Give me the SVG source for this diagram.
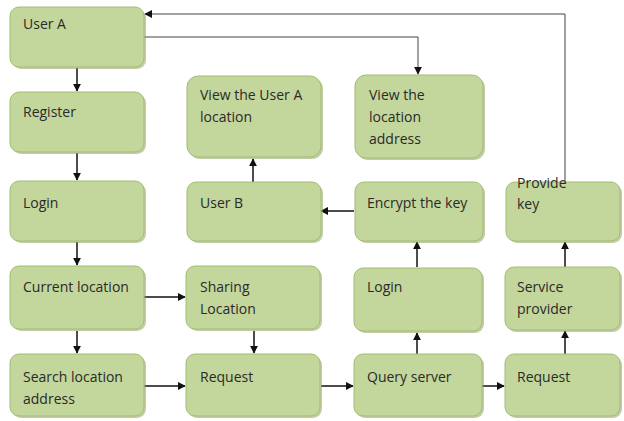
<svg xmlns="http://www.w3.org/2000/svg" width="624" height="421" viewBox="0 0 624 421">
  <style>
    .box { fill: #c3d69b; stroke: #a4bd74; stroke-width: 1; }
    .shadow { fill: #8fa35f; opacity: 0.55; }
    .lbl { font-family: "Open Sans", "Liberation Sans", sans-serif; font-size: 14px; fill: #2a2a2a; }
    .arr { fill: none; stroke: #111; stroke-width: 1.5; marker-end: url(#ah); }
    .thin { fill: none; stroke: #444; stroke-width: 1; marker-end: url(#ah); }
  </style>
  <defs>
    <marker id="ah" viewBox="0 0 10 10" refX="9" refY="5" markerWidth="8" markerHeight="8" markerUnits="userSpaceOnUse" orient="auto">
      <path d="M0,0 L10,5 L0,10 z" fill="#111"/>
    </marker>
  </defs>
  <rect width="624" height="421" fill="#fff"/>

  <g id="connectors">
    <line class="arr" x1="77" y1="68" x2="77" y2="91"/>
    <line class="arr" x1="77" y1="153" x2="77" y2="180"/>
    <line class="arr" x1="77" y1="242" x2="77" y2="265"/>
    <line class="arr" x1="77" y1="331" x2="77" y2="353"/>
    <line class="arr" x1="144" y1="297" x2="185" y2="297"/>
    <line class="arr" x1="144" y1="386" x2="185" y2="386"/>
    <line class="arr" x1="254" y1="331" x2="254" y2="353"/>
    <line class="arr" x1="321" y1="386" x2="353" y2="386"/>
    <line class="arr" x1="417" y1="354" x2="417" y2="333"/>
    <line class="arr" x1="417" y1="267" x2="417" y2="242"/>
    <line class="arr" x1="354" y1="211" x2="321" y2="211"/>
    <line class="arr" x1="253" y1="182" x2="253" y2="159"/>
    <line class="arr" x1="482" y1="386" x2="504" y2="386"/>
    <line class="arr" x1="565" y1="354" x2="565" y2="331"/>
    <line class="arr" x1="565" y1="267" x2="565" y2="242"/>
    <path class="thin" d="M565,182 V14 H145"/>
    <path class="thin" d="M144,37 H418 V74"/>
  </g>

  <g id="user-a">
    <rect class="shadow" x="12" y="9" width="134" height="60" rx="9"/>
    <rect class="box" x="10" y="7" width="134" height="60" rx="9"/>
    <text class="lbl" x="23" y="29">User A</text>
  </g>
  <g id="register">
    <rect class="shadow" x="12" y="94" width="134" height="60" rx="9"/>
    <rect class="box" x="10" y="92" width="134" height="60" rx="9"/>
    <text class="lbl" x="23" y="117">Register</text>
  </g>
  <g id="login-a">
    <rect class="shadow" x="12" y="183" width="134" height="60" rx="9"/>
    <rect class="box" x="10" y="181" width="134" height="60" rx="9"/>
    <text class="lbl" x="23" y="208">Login</text>
  </g>
  <g id="current-location">
    <rect class="shadow" x="12" y="268" width="134" height="63" rx="9"/>
    <rect class="box" x="10" y="266" width="134" height="63" rx="9"/>
    <text class="lbl" x="23" y="292">Current location</text>
  </g>
  <g id="search-location">
    <rect class="shadow" x="12" y="356" width="134" height="62" rx="9"/>
    <rect class="box" x="10" y="354" width="134" height="62" rx="9"/>
    <text class="lbl" x="23" y="382">Search location</text>
    <text class="lbl" x="23" y="404">address</text>
  </g>

  <g id="view-user-a">
    <rect class="shadow" x="189" y="78" width="134" height="81" rx="11"/>
    <rect class="box" x="187" y="76" width="134" height="81" rx="11"/>
    <text class="lbl" x="200" y="100">View the User A</text>
    <text class="lbl" x="200" y="122">location</text>
  </g>
  <g id="user-b">
    <rect class="shadow" x="189" y="184" width="134" height="59" rx="9"/>
    <rect class="box" x="187" y="182" width="134" height="59" rx="9"/>
    <text class="lbl" x="200" y="208">User B</text>
  </g>
  <g id="sharing-location">
    <rect class="shadow" x="188" y="268" width="134" height="63" rx="9"/>
    <rect class="box" x="186" y="266" width="134" height="63" rx="9"/>
    <text class="lbl" x="200" y="292">Sharing</text>
    <text class="lbl" x="200" y="314">Location</text>
  </g>
  <g id="request-1">
    <rect class="shadow" x="188" y="356" width="134" height="62" rx="9"/>
    <rect class="box" x="186" y="354" width="134" height="62" rx="9"/>
    <text class="lbl" x="200" y="382">Request</text>
  </g>

  <g id="view-location-address">
    <rect class="shadow" x="357" y="77" width="128" height="83" rx="11"/>
    <rect class="box" x="355" y="75" width="128" height="83" rx="11"/>
    <text class="lbl" x="369" y="100">View the</text>
    <text class="lbl" x="369" y="122">location</text>
    <text class="lbl" x="369" y="144">address</text>
  </g>
  <g id="encrypt-key">
    <rect class="shadow" x="357" y="184" width="128" height="59" rx="9"/>
    <rect class="box" x="355" y="182" width="128" height="59" rx="9"/>
    <text class="lbl" x="367" y="208">Encrypt the key</text>
  </g>
  <g id="login-b">
    <rect class="shadow" x="356" y="270" width="128" height="63" rx="9"/>
    <rect class="box" x="354" y="268" width="128" height="63" rx="9"/>
    <text class="lbl" x="367" y="292">Login</text>
  </g>
  <g id="query-server">
    <rect class="shadow" x="356" y="356" width="128" height="62" rx="9"/>
    <rect class="box" x="354" y="354" width="128" height="62" rx="9"/>
    <text class="lbl" x="367" y="382">Query server</text>
  </g>

  <g id="provide-key">
    <rect class="shadow" x="508" y="184" width="114" height="59" rx="9"/>
    <rect class="box" x="506" y="182" width="114" height="59" rx="9"/>
    <text class="lbl" x="517" y="188">Provide</text>
    <text class="lbl" x="517" y="209">key</text>
  </g>
  <g id="service-provider">
    <rect class="shadow" x="507" y="269" width="115" height="63" rx="9"/>
    <rect class="box" x="505" y="267" width="115" height="63" rx="9"/>
    <text class="lbl" x="517" y="292">Service</text>
    <text class="lbl" x="517" y="314">provider</text>
  </g>
  <g id="request-2">
    <rect class="shadow" x="507" y="356" width="115" height="62" rx="9"/>
    <rect class="box" x="505" y="354" width="115" height="62" rx="9"/>
    <text class="lbl" x="517" y="382">Request</text>
  </g>
</svg>
